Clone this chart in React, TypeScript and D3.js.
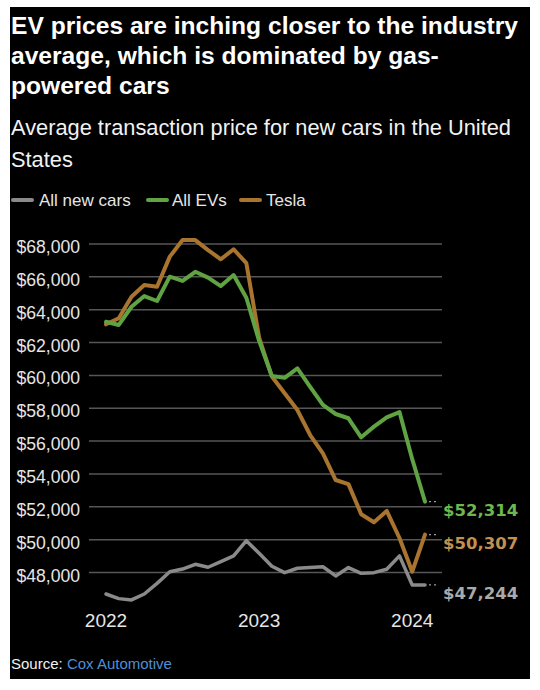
import React from "react";
import * as d3 from "d3";

const months = [
  "2022-01","2022-02","2022-03","2022-04","2022-05","2022-06","2022-07","2022-08","2022-09","2022-10","2022-11","2022-12",
  "2023-01","2023-02","2023-03","2023-04","2023-05","2023-06","2023-07","2023-08","2023-09","2023-10","2023-11","2023-12",
  "2024-01","2024-02",
];

const allNewCars = [46690, 46410, 46330, 46690, 47340, 48050, 48210, 48500, 48320, 48660, 49010, 49940,
  49170, 48380, 47990, 48260, 48300, 48350, 47790, 48300, 47950, 47990, 48200, 49010, 47240, 47244];

const allEVs = [63270, 63070, 64180, 64830, 64530, 66010, 65750, 66310, 65950, 65440, 66110, 64730,
  62100, 59960, 59850, 60430, 59300, 58200, 57650, 57390, 56230, 56880, 57450, 57770, 54900, 52314];

const tesla = [63110, 63480, 64790, 65500, 65400, 67230, 68240, 68240, 67630, 67070, 67680, 66830,
  62300, 59930, 58910, 57890, 56370, 55250, 53630, 53380, 51550, 51060, 51750, 50100, 48050, 50307];

const yTicks = [48000, 50000, 52000, 54000, 56000, 58000, 60000, 62000, 64000, 66000, 68000];
const xTickMonths = ["2022-01", "2023-01", "2024-01"];
const xTickLabels = ["2022", "2023", "2024"];

const seriesNames = ["All new cars", "All EVs", "Tesla"];
const seriesData = [allNewCars, allEVs, tesla];
const lineColors = ["#8a8a8a", "#5fa343", "#a8742f"];
const labelColors = ["#a9a9a9", "#6db650", "#c39052"];

const titleLines = [
  "EV prices are inching closer to the industry",
  "average, which is dominated by gas-",
  "powered cars",
];
const subtitleLines = ["Average transaction price for new cars in the United", "States"];

const SANS = "'Liberation Sans', Arial, sans-serif";

export default function App() {
  const x = d3.scalePoint<string>().domain(months).range([106, 425]);
  const y = d3.scaleLinear().domain([48000, 68000]).range([572.5, 244]);
  const line = d3
    .line<number>()
    .x((_, i) => x(months[i]) as number)
    .y((v) => y(v))
    .curve(d3.curveLinear);
  const fmt = d3.format("$,");

  const legendItems = [
    { sx: 13, tx: 39 },
    { sx: 148, tx: 172 },
    { sx: 241, tx: 266 },
  ];

  const drawOrder = [0, 2, 1];
  const lastX = x(months[months.length - 1]) as number;

  return (
    <div style={{ position: "absolute", left: 0, top: 0 }}>
      <svg width={540} height={690} style={{ display: "block", background: "#fff" }}>
        <rect x={10} y={7} width={520} height={672} fill="#000" />
        <text fill="#fff" fontFamily={SANS} fontWeight="bold" fontSize={24.6}>
          {titleLines.map((t, i) => (
            <tspan key={i} x={11} y={34 + i * 30}>{t}</tspan>
          ))}
        </text>
        <text fill="#f2f2f2" fontFamily={SANS} fontSize={21.8}>
          {subtitleLines.map((t, i) => (
            <tspan key={i} x={11} y={135 + i * 32}>{t}</tspan>
          ))}
        </text>

        {seriesNames.map((n, i) => (
          <g key={n}>
            <line x1={legendItems[i].sx} x2={legendItems[i].sx + 19} y1={200} y2={200}
              stroke={lineColors[i]} strokeWidth={4} strokeLinecap="round" />
            <text x={legendItems[i].tx} y={206} fill="#e6e6e6" fontFamily={SANS} fontSize={17}>{n}</text>
          </g>
        ))}

        {yTicks.map((t) => (
          <g key={t}>
            <line x1={89} x2={442} y1={y(t)} y2={y(t)} stroke="#565656" strokeWidth={1.5} />
            <text x={80} y={y(t) + 9} textAnchor="end" fill="#e6e6e6" fontFamily={SANS} fontSize={17.6}>
              {fmt(t)}
            </text>
          </g>
        ))}

        {xTickMonths.map((m, i) => (
          <text key={m} x={x(m)} y={627} textAnchor="middle" fill="#e6e6e6" fontFamily={SANS} fontSize={19}>
            {xTickLabels[i]}
          </text>
        ))}

        {drawOrder.map((si) => (
          <path key={si} d={line(seriesData[si]) || ""} fill="none" stroke={lineColors[si]}
            strokeWidth={si === 0 ? 3.5 : 4} strokeLinejoin="round" strokeLinecap="round" />
        ))}

        {seriesData.map((s, i) => {
          const v = s[s.length - 1];
          return (
            <g key={i}>
              <line x1={lastX + 4} x2={lastX + 13} y1={y(v)} y2={y(v)} stroke="#9a9a9a"
                strokeWidth={1.2} strokeDasharray="2,3" />
              <text x={443} y={y(v) + 14.5} fill={labelColors[i]} fontFamily="'DejaVu Sans', sans-serif"
                fontWeight="bold" fontSize={16.5}>
                {fmt(v)}
              </text>
            </g>
          );
        })}

        <text x={11} y={669} fontFamily={SANS} fontSize={15}>
          <tspan fill="#f2f2f2">Source: </tspan>
          <tspan fill="#4f8fd6">Cox Automotive</tspan>
        </text>
      </svg>
    </div>
  );
}
